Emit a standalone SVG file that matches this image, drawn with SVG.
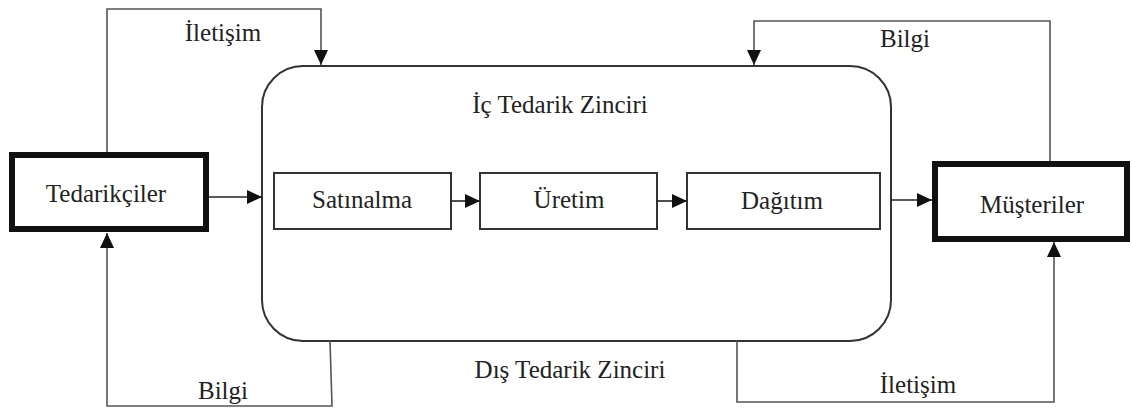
<svg xmlns="http://www.w3.org/2000/svg" width="1132" height="412" viewBox="0 0 1132 412" font-family="'Liberation Serif', 'Times New Roman', 'DejaVu Serif', serif">
<style>
text{font-family:'Liberation Serif','Times New Roman','DejaVu Serif',serif;font-size:25px;fill:#222;text-anchor:middle}
.thick{fill:#fff;stroke:#111;stroke-width:6}
.thin{fill:#fff;stroke:#333;stroke-width:2}
.big{fill:#fff;stroke:#333;stroke-width:2}
.line{fill:none;stroke:#555;stroke-width:1.6}
</style>
<defs>
<marker id="ah" markerUnits="userSpaceOnUse" markerWidth="16" markerHeight="14" refX="15" refY="7" orient="auto">
<path d="M0,0 L15,7 L0,14 Z" fill="#111"/>
</marker>
</defs>
<g id="internal">
<rect class="big" x="262" y="66" width="629" height="275" rx="41" ry="41"/>
<text x="560" y="113">İç Tedarik Zinciri</text>
</g>
<g id="external-label"><text x="570" y="378">Dış Tedarik Zinciri</text></g>
<g id="suppliers">
<rect class="thick" x="12" y="155" width="194" height="74"/>
<text x="106" y="202">Tedarikçiler</text>
</g>
<g id="customers">
<rect class="thick" x="935" y="164" width="192" height="75"/>
<text x="1032" y="213">Müşteriler</text>
</g>
<g id="purchasing">
<rect class="thin" x="274" y="173" width="177" height="56"/>
<text x="362" y="208">Satınalma</text>
</g>
<g id="production">
<rect class="thin" x="480" y="173" width="177" height="56"/>
<text x="569" y="208">Üretim</text>
</g>
<g id="distribution">
<rect class="thin" x="687" y="173" width="193" height="56"/>
<text x="782" y="209">Dağıtım</text>
</g>
<g id="connectors">
<path class="line" d="M107,152 V9 H321 V65" marker-end="url(#ah)"/>
<path class="line" d="M330,341 L332,406 H107 V233" marker-end="url(#ah)"/>
<path class="line" d="M1050,161 V21 H754 V65" marker-end="url(#ah)"/>
<path class="line" d="M737,341 V402 H1054 V242" marker-end="url(#ah)"/>
<path class="line" style="stroke:#222" d="M209,197 H262" marker-end="url(#ah)"/>
<path class="line" style="stroke:#222" d="M451,201 H480" marker-end="url(#ah)"/>
<path class="line" style="stroke:#222" d="M657,201 H687" marker-end="url(#ah)"/>
<path class="line" style="stroke:#222" d="M891,200 H932" marker-end="url(#ah)"/>
<text x="223" y="41">İletişim</text>
<text x="223" y="399">Bilgi</text>
<text x="905" y="47">Bilgi</text>
<text x="918" y="393">İletişim</text>
</g>
</svg>
